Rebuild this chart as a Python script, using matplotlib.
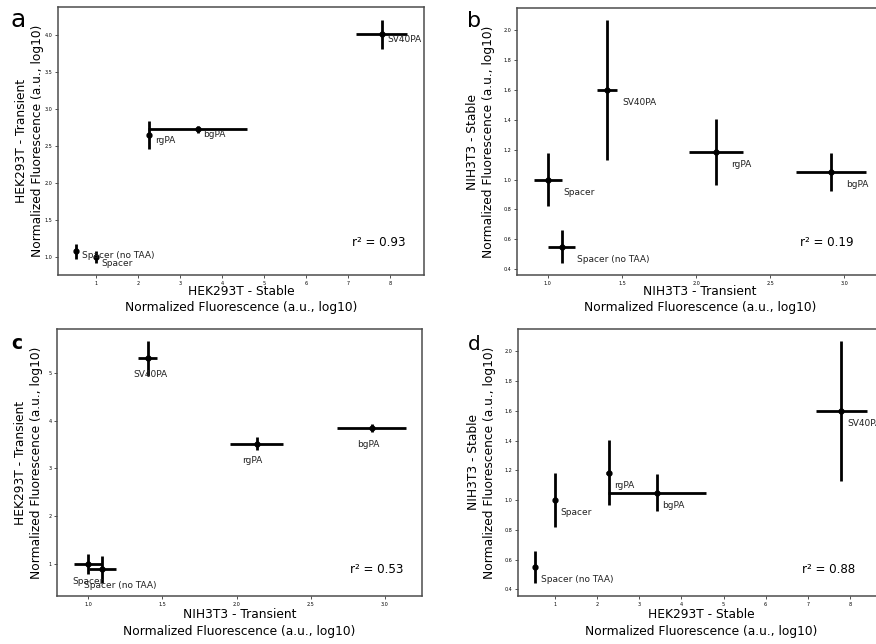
# Transient vs stable expression of the polyA constructs, 4 panels
import numpy as np
from matplotlib import pyplot as plt

names = ['Spacer (no TAA)', 'Spacer', 'rgPA', 'bgPA', 'SV40PA']

# HEK293T stable (x in a and d)
hek_stable = [0.53, 1.0, 2.27, 3.42, 7.8]
hek_stable_err = [0.03, 0.03, 0.05, 1.17, 0.6]

# HEK293T transient, as plotted in panel a
hek_trans_a = [1.075, 1.0, 2.65, 2.725, 4.01]
hek_trans_a_err = [0.1, 0.08, 0.19, 0.05, 0.2]

# HEK293T transient, as plotted in panel c
hek_trans_c = [0.9, 1.0, 3.52, 3.84, 5.3]
hek_trans_c_err = [0.28, 0.21, 0.13, 0.08, 0.37]

# NIH3T3 transient (x in b and c)
nih_trans = [1.095, 1.0, 2.135, 2.91, 1.4]
nih_trans_err = [0.092, 0.095, 0.18, 0.235, 0.066]

# NIH3T3 stable (y in b and d)
nih_stable = [0.55, 1.0, 1.185, 1.05, 1.6]
nih_stable_err = [0.11, 0.18, 0.22, 0.125, 0.47]

r2 = ['0.93', '0.19', '0.53', '0.88']

sub = 'Normalized Fluorescence (a.u., log10)'
W, H = 876, 644

fig = plt.figure(figsize=(W / 100, H / 100), dpi=100)

def make_ax(l, r, t, b):
    return fig.add_axes([l / W, 1 - b / H, (r - l) / W, (b - t) / H])

def panel(ax, x, y, xe, ye, xlab, ylab, r2txt, xlim, ylim, xticks, yticks,
          offsets, ha='left', r2pos=(0.95, 0.12), ylx=-0.038, xly=-0.037):
    ax.errorbar(x, y, xerr=xe, yerr=ye, fmt='o', color='black', ms=3.5,
                elinewidth=2, capsize=0)
    for i, n in enumerate(names):
        ax.annotate(n, (x[i], y[i]), xytext=offsets[i], textcoords='offset points',
                    fontsize=6.5, ha=ha, va='center', color='#222222')
    ax.set_xlim(*xlim)
    ax.set_ylim(*ylim)
    ax.set_xticks(xticks)
    ax.set_yticks(yticks)
    ax.tick_params(labelsize=3.5, length=2, width=0.6, color='#333333', pad=2)
    for s in ax.spines.values():
        s.set_color('#4d4d4d')
        s.set_linewidth(1.1)
    ax.set_xlabel(xlab + '\n' + sub, fontsize=8.8, linespacing=1.35, va='top')
    ax.set_ylabel(ylab + '\n' + sub, fontsize=8.8, linespacing=1.35)
    ax.xaxis.set_label_coords(0.5, xly)
    ax.yaxis.set_label_coords(ylx, 0.5)
    ax.text(r2pos[0], r2pos[1], 'r² = ' + r2txt, transform=ax.transAxes,
            ha='right', va='center', fontsize=8.6)

def letter(s, x, y, size, weight='normal'):
    fig.text(x / W, 1 - y / H, s, fontsize=size, fontweight=weight,
             ha='center', va='baseline')

# a
ax = make_ax(58, 424, 7, 275)
panel(ax, hek_stable, hek_trans_a, hek_stable_err, hek_trans_a_err,
      'HEK293T - Stable', 'HEK293T - Transient', r2[0],
      (0.10, 8.81), (0.757, 4.38), range(1, 9), np.arange(1.0, 4.01, 0.5),
      [(4, -3), (4, -5), (4, -4), (4, -4), (4, -4)])
ax.set_xticklabels([str(v) for v in range(1, 9)])
ax.set_yticklabels(['%.1f' % v for v in np.arange(1.0, 4.01, 0.5)])
letter('a', 18, 27, 18)

# b
ax = make_ax(517, 883, 8, 275)
panel(ax, nih_trans, nih_stable, nih_trans_err, nih_stable_err,
      'NIH3T3 - Transient', 'NIH3T3 - Stable', r2[1],
      (0.793, 3.26), (0.36, 2.15), np.arange(1.0, 3.01, 0.5),
      np.arange(0.4, 2.01, 0.2),
      [(11, -9), (11, -9), (11, -9), (11, -9), (11, -9)], r2pos=(0.92, 0.12),
      ylx=-0.06)
ax.set_xticklabels(['%.1f' % v for v in np.arange(1.0, 3.01, 0.5)])
ax.set_yticklabels(['%.1f' % v for v in np.arange(0.4, 2.01, 0.2)])
letter('b', 474, 27, 16)

# c
ax = make_ax(57, 422, 329, 596)
panel(ax, nih_trans, hek_trans_c, nih_trans_err, hek_trans_c_err,
      'NIH3T3 - Transient', 'HEK293T - Transient', r2[2],
      (0.79, 3.25), (0.34, 5.91), np.arange(1.0, 3.01, 0.5), range(1, 6),
      [(13, -12), (0, -12), (-3, -12), (-2, -12), (2, -12)], ha='center',
      r2pos=(0.95, 0.10), xly=-0.045)
ax.set_xticklabels(['%.1f' % v for v in np.arange(1.0, 3.01, 0.5)])
letter('c', 17, 349, 13.5, 'bold')

# d
ax = make_ax(518, 884, 329, 596)
panel(ax, hek_stable, nih_stable, hek_stable_err, nih_stable_err,
      'HEK293T - Stable', 'NIH3T3 - Stable', r2[3],
      (0.12, 8.81), (0.355, 2.15), range(1, 9), np.arange(0.4, 2.01, 0.2),
      [(4, -9), (4, -9), (4, -9), (4, -9), (4, -9)], r2pos=(0.92, 0.10),
      ylx=-0.06, xly=-0.045)
ax.set_yticklabels(['%.1f' % v for v in np.arange(0.4, 2.01, 0.2)])
letter('d', 474, 350, 14.5)

plt.savefig('out.png', dpi=100)
